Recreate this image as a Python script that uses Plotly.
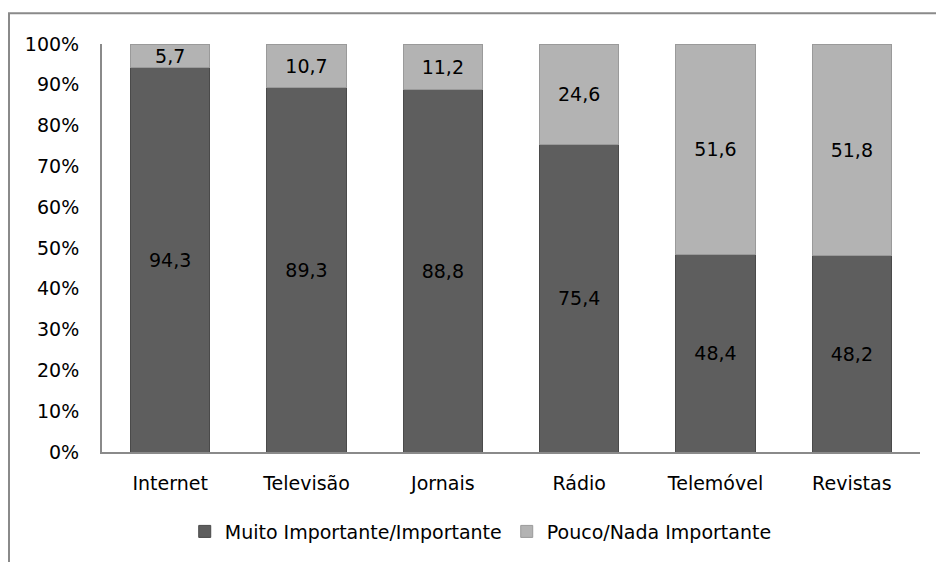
import plotly.graph_objects as go

categories = ["Internet", "Televisão", "Jornais", "Rádio", "Telemóvel", "Revistas"]
muito_importante = [94.3, 89.3, 88.8, 75.4, 48.4, 48.2]
pouco_importante = [5.7, 10.7, 11.2, 24.6, 51.6, 51.8]
series_names = ["Muito Importante/Importante", "Pouco/Nada Importante"]
tick_vals = [0, 0.1, 0.2, 0.3, 0.4, 0.5, 0.6, 0.7, 0.8, 0.9, 1.0]
tick_text = ["0%", "10%", "20%", "30%", "40%", "50%", "60%", "70%", "80%", "90%", "100%"]

FONT = "DejaVu Sans"
FS = 19

fig = go.Figure()
fig.add_trace(go.Bar(
    x=categories, y=[v / 100 for v in muito_importante], name=series_names[0],
    text=[f"{v:.1f}".replace(".", ",") for v in muito_importante],
    textposition="inside", insidetextanchor="middle", textangle=0,
    textfont=dict(family=FONT, size=FS, color="#000000"),
    marker=dict(color="#5e5e5e", line=dict(color="#4a4a4a", width=1)),
))
fig.add_trace(go.Bar(
    x=categories, y=[v / 100 for v in pouco_importante], name=series_names[1],
    text=[f"{v:.1f}".replace(".", ",") for v in pouco_importante],
    textposition="inside", insidetextanchor="middle", textangle=0,
    textfont=dict(family=FONT, size=FS, color="#000000"),
    marker=dict(color="#b3b3b3", line=dict(color="#9a9a9a", width=1)),
))

fig.update_layout(
    barmode="stack",
    bargap=0.42,
    width=936, height=562,
    margin=dict(l=102, r=16, t=44, b=107),
    paper_bgcolor="white", plot_bgcolor="white",
    font=dict(family=FONT, size=FS, color="#000000"),
    uniformtext=dict(minsize=FS, mode="show"),
    showlegend=True,
    legend=dict(orientation="h", x=0.463, xanchor="center", y=-0.195, yanchor="middle",
                font=dict(family=FONT, size=FS), itemwidth=30, traceorder="normal"),
    xaxis=dict(showline=True, linecolor="#8a8a8a", linewidth=2, ticks="",
               showgrid=False, ticklabelstandoff=13, tickfont=dict(family=FONT, size=FS)),
    yaxis=dict(range=[0, 1], tickvals=tick_vals, ticktext=tick_text, showline=True,
               linecolor="#8a8a8a", linewidth=2, ticks="", showgrid=False, zeroline=False,
               ticklabelstandoff=17, tickfont=dict(family=FONT, size=FS)),
    shapes=[dict(type="rect", xref="paper", yref="paper",
                 x0=(9 - 102) / 818, x1=1.05, y0=-0.3, y1=(455 - 13) / 411,
                 line=dict(color="#8a8a8a", width=2), fillcolor="rgba(0,0,0,0)", layer="below")],
)

fig.write_html("out.html", config={"displayModeBar": False},
               post_script="document.body.style.margin='0';")
